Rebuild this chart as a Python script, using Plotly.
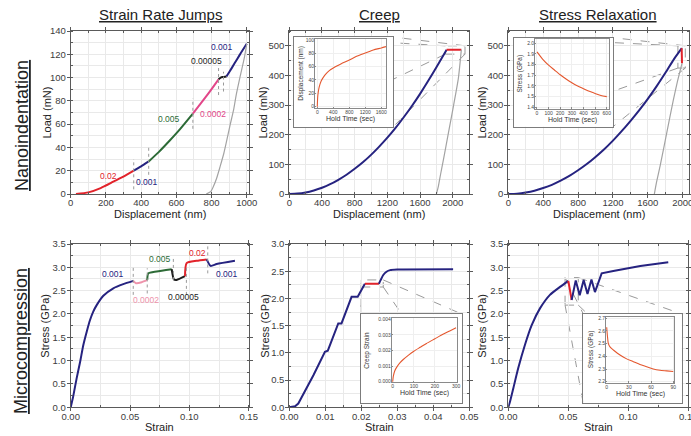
import plotly.graph_objects as go

W, H = 691, 436
FONT = "Liberation Sans, Arial, Helvetica, sans-serif"

NAVY = "#262380"
RED = "#e2232b"
GREEN = "#2d6b37"
MAGENTA = "#e24689"
PINK = "#ee93ab"
BLACK = "#1c1c1c"
UNLOAD = "#a3a3a3"
HOLD = "#e4572e"
FRAME = "#5a5a5a"
GRID = "#e9e9e9"
TICKTXT = "#3c3c3c"
DASH = "#9a9a9a"

# ---------------- Nanoindentation: strain rate jumps (nm, mN) ----------------
srj_red_h = [30, 100, 170, 245, 302, 358]
srj_red_p = [0, 1.4, 5.1, 10.8, 15.1, 20.0]
srj_blue1_h = [358, 400, 443]
srj_blue1_p = [20.0, 23.8, 28.0]
srj_green_h = [443, 500, 560, 620, 694]
srj_green_p = [28.0, 36.0, 45.5, 55.5, 69.0]
srj_pink_h = [694, 740, 790, 840]
srj_pink_p = [69.0, 78.0, 88.0, 98.5]
srj_black_h = [840, 852, 868, 885]
srj_black_p = [98.5, 100.0, 100.5, 101.0]
srj_blue2_h = [885, 900, 930, 960, 1000]
srj_blue2_p = [101.0, 104.5, 112.0, 119.5, 129.0]
srj_unload_h = [1000, 985, 962, 940, 925, 905, 887, 870, 849, 830, 811, 795, 770]
srj_unload_p = [129, 116, 100.6, 85, 72, 59, 46.5, 35, 23.7, 14, 6.6, 2, 0]
srj_mark_h = [358, 443, 694, 840, 868]
srj_mark_lo = [4, 16.5, 56, 85, 88]
srj_mark_hi = [30, 41, 82, 110, 105]
srj_labels = ["0.02", "0.001", "0.005", "0.0002", "0.00005", "0.001"]
srj_label_h = [215, 432, 557, 811, 774, 862]
srj_label_p = [15.7, 10.0, 64.2, 68.7, 114, 126.3]
srj_label_c = [RED, NAVY, GREEN, MAGENTA, BLACK, NAVY]

# ---------------- Nanoindentation: creep ----------------
cr_load_h = [0, 100, 200, 300, 400, 500, 600, 700, 800, 900, 1000, 1100, 1200,
             1300, 1400, 1500, 1600, 1700, 1800, 1925]
cr_load_p = [0, 1.3, 5.3, 12, 21, 33, 48, 65, 85, 107, 132, 160, 190,
             223, 259, 297, 338, 382, 428, 487]
cr_hold_h = [1925, 2105]
cr_hold_p = [487, 487]
cr_unload_h = [2105, 2069, 2008, 1947, 1886, 1850, 1824, 1800]
cr_unload_p = [487, 391, 296, 206, 116, 65, 26, 0]
cr_box_h = [1910, 2150]
cr_box_p = [472, 500]
cr_in_t = [0, 10, 25, 50, 100, 150, 200, 300, 400, 500, 600, 800, 1000, 1200, 1400, 1600, 1717]
cr_in_d = [0, 14, 22, 30, 39, 44, 48, 54, 58, 61.5, 64.5, 70, 76, 80.5, 85, 88, 90]

# ---------------- Nanoindentation: stress relaxation ----------------
sx_load_h = [0, 100, 200, 300, 400, 500, 600, 700, 800, 900, 1000, 1100, 1200,
             1300, 1400, 1500, 1600, 1700, 1800, 1900, 1990]
sx_load_p = [0, 1.2, 5, 11, 20, 31, 45, 61, 80, 101, 125, 151, 180,
             212, 246, 282, 321, 363, 408, 455, 492]
sx_drop_h = [1988, 1992]
sx_drop_p = [492, 441]
sx_unload_h = [1992, 1940, 1893, 1817, 1740, 1700, 1675]
sx_unload_p = [441, 380, 318, 206, 93, 40, 0]
sx_box_h = [1945, 2030]
sx_box_p = [425, 500]
sx_in_t = [0, 50, 100, 150, 200, 250, 300, 350, 400, 450, 500, 550, 600]
sx_in_s = [1.92, 1.85, 1.795, 1.75, 1.705, 1.665, 1.63, 1.60, 1.575, 1.55, 1.53, 1.51, 1.50]

# ---------------- Microcompression: strain rate jumps ----------------
mc_b1_e = [0, 0.002, 0.005, 0.008, 0.0106, 0.0135, 0.0163, 0.019, 0.0219, 0.0275,
           0.0359, 0.0443, 0.0527]
mc_b1_s = [0, 0.22, 0.62, 0.98, 1.33, 1.62, 1.87, 2.05, 2.19, 2.39, 2.55, 2.64, 2.71]
mc_pink_e = [0.0527, 0.055, 0.0598, 0.0645]
mc_pink_s = [2.71, 2.66, 2.68, 2.73]
mc_green_e = [0.0645, 0.0654, 0.0724, 0.0851]
mc_green_s = [2.73, 2.87, 2.91, 2.96]
mc_black_e = [0.0851, 0.087, 0.0893, 0.0963]
mc_black_s = [2.96, 2.74, 2.73, 2.81]
mc_red_e = [0.0963, 0.0977, 0.1061, 0.1146]
mc_red_s = [2.81, 3.09, 3.14, 3.17]
mc_b2_e = [0.1146, 0.1179, 0.1230, 0.1384]
mc_b2_s = [3.17, 3.03, 3.07, 3.14]
mc_mark_e = [0.0527, 0.0645, 0.0865, 0.0975, 0.1155]
mc_mark_lo = [2.41, 2.44, 2.73, 2.41, 2.87]
mc_mark_hi = [3.05, 2.98, 3.19, 3.01, 3.48]
mc_labels = ["0.001", "0.0002", "0.005", "0.00005", "0.02", "0.001"]
mc_label_e = [0.0359, 0.0632, 0.0752, 0.0949, 0.1067, 0.1314]
mc_label_s = [2.85, 2.30, 3.17, 2.37, 3.31, 2.86]
mc_label_c = [NAVY, PINK, GREEN, BLACK, RED, NAVY]

# ---------------- Microcompression: creep ----------------
mcc_load_e = [0, 0.0016, 0.0025, 0.0034, 0.0067, 0.0099, 0.0107, 0.0136, 0.0145,
              0.0173, 0.0190, 0.0210]
mcc_load_s = [0, 0.02, 0.07, 0.18, 0.59, 1.02, 1.04, 1.54, 1.54, 2.03, 2.03, 2.27]
mcc_hold_e = [0.0210, 0.0249]
mcc_hold_s = [2.27, 2.27]
mcc_after_e = [0.0249, 0.0254, 0.0261, 0.0270, 0.0280, 0.0300, 0.0455]
mcc_after_s = [2.27, 2.34, 2.43, 2.49, 2.52, 2.53, 2.535]
mcc_box_e = [0.0200, 0.0261]
mcc_box_s = [2.21, 2.34]
mcc_in_t = [0, 3, 10, 20, 35, 50, 75, 100, 130, 160, 200, 240, 270, 300]
mcc_in_e = [0, 0.00035, 0.0007, 0.00095, 0.00122, 0.00142, 0.0017, 0.00195, 0.0022,
            0.00245, 0.00275, 0.00305, 0.00325, 0.00345]

# ---------------- Microcompression: stress relaxation ----------------
msr_load_e = [0, 0.0014, 0.0042, 0.0083, 0.0139, 0.0195, 0.0264, 0.0347, 0.0431, 0.0500]
msr_load_s = [0, 0.12, 0.41, 0.84, 1.34, 1.76, 2.12, 2.41, 2.58, 2.71]
msr_relax_e = [0.0500, 0.0528]
msr_relax_s = [2.71, 2.30]
msr_cycle_e = [0.0528, 0.0562, 0.0595, 0.0628, 0.0660, 0.0693, 0.0722, 0.0755, 0.0778,
               0.0875, 0.1000, 0.1100, 0.1333]
msr_cycle_s = [2.30, 2.72, 2.40, 2.73, 2.43, 2.74, 2.47, 2.72, 2.87, 2.92, 2.98, 3.03, 3.11]
msr_box_e = [0.0473, 0.0583]
msr_box_s = [2.19, 2.78]
msr_in_t = [0, 1, 2.25, 5, 9, 18, 27, 36, 45, 54, 63, 72, 81, 90]
msr_in_s = [2.63, 2.56, 2.50, 2.47, 2.45, 2.41, 2.38, 2.358, 2.335, 2.318, 2.30, 2.29, 2.285, 2.28]


def xp(p):
    return p / W


def yp(p):
    return 1 - p / H


# plot areas in pixels (left, right, top, bottom) with their axis ranges
PANEL = {
    1: dict(box=(70.7, 248.5, 31.0, 194.0), xr=[0, 1010], yr=[0, 140],
            xd=200, yd=20, xf=None, yf=None),
    2: dict(box=(289.3, 469.1, 31.0, 194.0), xr=[0, 2200], yr=[0, 550],
            xd=400, yd=100, xf=None, yf=None),
    3: dict(box=(508.3, 688.8, 31.0, 194.0), xr=[0, 2070], yr=[0, 550],
            xd=400, yd=100, xf=None, yf=None),
    4: dict(box=(70.7, 248.7, 244.0, 407.3), xr=[0, 0.15], yr=[0, 3.5],
            xd=0.05, yd=0.5, xf=".2f", yf=".1f"),
    5: dict(box=(289.3, 469.3, 244.0, 407.3), xr=[0, 0.05], yr=[0, 3.0],
            xd=0.01, yd=0.5, xf=".2f", yf=".1f"),
    6: dict(box=(508.3, 688.3, 244.0, 407.3), xr=[0, 0.15], yr=[0, 3.5],
            xd=0.05, yd=0.5, xf=".2f", yf=".1f"),
}

# inset frames (outer white box) and inner plot areas, keyed by host panel
INSET = {
    2: dict(frame=(294, 393, 37, 127), box=(315, 386, 39.3, 108),
            xr=[-57, 1717], yr=[-2, 101], xd=400, yd=20, yf=None,
            ytitle="Displacement (nm)"),
    3: dict(frame=(514, 613, 37.7, 126.7), box=(535, 609.3, 39.3, 108.7),
            xr=[-17, 622], yr=[1.387, 2.0375], xd=100, yd=0.1, yf=".1f",
            ytitle="Stress (GPa)"),
    5: dict(frame=(361, 462.3, 314.3, 403.3), box=(391.7, 456.7, 318.3, 382.3),
            xr=[-4.7, 303], yr=[-0.00004, 0.00406], xd=100, yd=0.001, yf=".3f",
            ytitle="Creep Strain"),
    6: dict(frame=(583.3, 681.7, 314, 403.3), box=(606, 674.3, 316.7, 382.7),
            xr=[-0.95, 91.4], yr=[2.192, 2.7126], xd=30, yd=0.1, yf=".1f",
            ytitle="Stress (GPa)"),
}
FRAME_ID = {2: 7, 3: 8, 5: 9, 6: 10}
INNER_ID = {2: 11, 3: 12, 5: 13, 6: 14}


def axkey(n, a):
    return f"{a}axis" if n == 1 else f"{a}axis{n}"


def ref(n, a):
    return a if n == 1 else f"{a}{n}"


def to_px(n, x, y):
    l, r, t, b = PANEL[n]["box"]
    xr, yr = PANEL[n]["xr"], PANEL[n]["yr"]
    return (l + (x - xr[0]) / (xr[1] - xr[0]) * (r - l),
            b - (y - yr[0]) / (yr[1] - yr[0]) * (b - t))


fig = go.Figure()


def line(n, x, y, color, width=2.0, spline=True):
    fig.add_trace(go.Scatter(
        x=x, y=y, mode="lines", xaxis=ref(n, "x"), yaxis=ref(n, "y"),
        line=dict(color=color, width=width, shape="spline" if spline else "linear",
                  smoothing=0.6),
        hoverinfo="skip", showlegend=False))


# main panels
line(1, srj_red_h, srj_red_p, RED)
line(1, srj_blue1_h, srj_blue1_p, NAVY)
line(1, srj_green_h, srj_green_p, GREEN)
line(1, srj_pink_h, srj_pink_p, MAGENTA)
line(1, srj_black_h, srj_black_p, BLACK)
line(1, srj_blue2_h, srj_blue2_p, NAVY)
line(1, srj_unload_h, srj_unload_p, UNLOAD, 1.2)

line(2, cr_load_h, cr_load_p, NAVY)
line(2, cr_hold_h, cr_hold_p, RED)
line(2, cr_unload_h, cr_unload_p, UNLOAD, 1.2)

line(3, sx_load_h, sx_load_p, NAVY)
line(3, sx_drop_h, sx_drop_p, RED)
line(3, sx_unload_h, sx_unload_p, UNLOAD, 1.2)

line(4, mc_b1_e, mc_b1_s, NAVY)
line(4, mc_pink_e, mc_pink_s, PINK)
line(4, mc_green_e, mc_green_s, GREEN)
line(4, mc_black_e, mc_black_s, BLACK)
line(4, mc_red_e, mc_red_s, RED)
line(4, mc_b2_e, mc_b2_s, NAVY)

line(5, mcc_load_e, mcc_load_s, NAVY, spline=False)
line(5, mcc_hold_e, mcc_hold_s, RED)
line(5, mcc_after_e, mcc_after_s, NAVY)

line(6, msr_load_e, msr_load_s, NAVY)
line(6, msr_relax_e, msr_relax_s, RED)
line(6, msr_cycle_e, msr_cycle_s, NAVY, spline=False)

# white frames behind the insets
for k, fid in FRAME_ID.items():
    fig.add_trace(go.Scatter(x=[0.5], y=[0.5], mode="markers", marker=dict(opacity=0),
                             xaxis=ref(fid, "x"), yaxis=ref(fid, "y"),
                             hoverinfo="skip", showlegend=False))

# inset curves
line(INNER_ID[2], cr_in_t, cr_in_d, HOLD, 1.1)
line(INNER_ID[3], sx_in_t, sx_in_s, HOLD, 1.1)
line(INNER_ID[5], mcc_in_t, mcc_in_e, HOLD, 1.1)
line(INNER_ID[6], msr_in_t, msr_in_s, HOLD, 1.1)

layout = dict(
    width=W, height=H, autosize=False,
    margin=dict(l=0, r=0, t=0, b=0, pad=0),
    paper_bgcolor="white", plot_bgcolor="white",
    template="none", showlegend=False,
    font=dict(family=FONT, color=TICKTXT),
)

tickfont = dict(family=FONT, size=9.5, color=TICKTXT)
for n, p in PANEL.items():
    l, r, t, b = p["box"]
    common = dict(showline=True, linecolor=FRAME, linewidth=1, mirror="ticks",
                  ticks="outside", ticklen=3, tickcolor=FRAME, tickwidth=1,
                  showgrid=True, gridcolor=GRID, gridwidth=1, zeroline=False,
                  tickfont=tickfont, fixedrange=True, tick0=0,
                  ticklabeloverflow="allow")
    layout[axkey(n, "x")] = dict(
        common, domain=[xp(l), xp(r)], range=p["xr"], anchor=ref(n, "y"),
        dtick=p["xd"], tickformat=p["xf"], ticklabelstandoff=-3,
        minor=dict(dtick=p["xd"] / 2, showgrid=True, gridcolor=GRID,
                   ticks="inside", ticklen=2, tickcolor=FRAME))
    layout[axkey(n, "y")] = dict(
        common, domain=[yp(b), yp(t)], range=p["yr"], anchor=ref(n, "x"),
        dtick=p["yd"], tickformat=p["yf"], ticklabelstandoff=-1,
        minor=dict(dtick=p["yd"] / 2, showgrid=True, gridcolor=GRID,
                   ticks="inside", ticklen=2, tickcolor=FRAME))

for k, ins in INSET.items():
    fid, iid = FRAME_ID[k], INNER_ID[k]
    l, r, t, b = ins["frame"]
    plain = dict(showline=True, linecolor="#7c7c7c", linewidth=1, mirror=True,
                 showgrid=False, zeroline=False, showticklabels=False, ticks="",
                 range=[0, 1], fixedrange=True)
    layout[axkey(fid, "x")] = dict(plain, domain=[xp(l), xp(r)], anchor=ref(fid, "y"))
    layout[axkey(fid, "y")] = dict(plain, domain=[yp(b), yp(t)], anchor=ref(fid, "x"))

    l, r, t, b = ins["box"]
    small = dict(showline=True, linecolor="#8a8a8a", linewidth=0.8, mirror=True,
                 ticks="inside", ticklen=1.5, tickcolor="#8a8a8a",
                 showgrid=True, gridcolor="#efefef", zeroline=False, fixedrange=True,
                 tickfont=dict(family=FONT, size=5, color="#444"), tick0=0,
                 ticklabeloverflow="allow")
    layout[axkey(iid, "x")] = dict(small, domain=[xp(l), xp(r)], range=ins["xr"],
                                   anchor=ref(iid, "y"), dtick=ins["xd"],
                                   ticklabelstandoff=-1)
    layout[axkey(iid, "y")] = dict(small, domain=[yp(b), yp(t)], range=ins["yr"],
                                   anchor=ref(iid, "x"), dtick=ins["yd"],
                                   tickformat=ins["yf"], ticklabelstandoff=-1)

shapes = []
# dotted markers at the rate changes
for h, lo, hi in zip(srj_mark_h, srj_mark_lo, srj_mark_hi):
    shapes.append(dict(type="line", xref="x", yref="y", x0=h, x1=h, y0=lo, y1=hi,
                       line=dict(color="#9a9a9a", width=1, dash="dot")))
for e, lo, hi in zip(mc_mark_e, mc_mark_lo, mc_mark_hi):
    shapes.append(dict(type="line", xref="x4", yref="y4", x0=e, x1=e, y0=lo, y1=hi,
                       line=dict(color="#9a9a9a", width=1, dash="dot")))

# dashed zoom boxes and connectors to the insets
zoom_boxes = {2: (cr_box_h, cr_box_p), 3: (sx_box_h, sx_box_p),
              5: (mcc_box_e, mcc_box_s), 6: (msr_box_e, msr_box_s)}
for k, (bx, by) in zoom_boxes.items():
    shapes.append(dict(type="rect", xref=ref(k, "x"), yref=ref(k, "y"),
                       x0=bx[0], x1=bx[1], y0=by[0], y1=by[1],
                       line=dict(color=DASH, width=1, dash="dash"), layer="below"))
    fl, fr, ft, fb = INSET[k]["frame"]
    pairs = [((bx[0], by[1]), (fl, ft)), ((bx[1], by[1]), (fr, ft)),
             ((bx[0], by[0]), (fl, fb)), ((bx[1], by[0]), (fr, fb))]
    for (dx, dy), (cx, cy) in pairs:
        px0, py0 = to_px(k, dx, dy)
        shapes.append(dict(type="line", xref="paper", yref="paper",
                           x0=xp(px0), y0=yp(py0), x1=xp(cx), y1=yp(cy),
                           line=dict(color=DASH, width=1, dash="dash"), layer="below"))
layout["shapes"] = shapes

ann = []


def text(x, y, s, size, color="#222", angle=0, xref="paper", yref="paper"):
    ann.append(dict(x=x, y=y, xref=xref, yref=yref, text=s, showarrow=False,
                    textangle=angle, xanchor="center", yanchor="middle",
                    font=dict(family=FONT, size=size, color=color)))


# column and row headings
text(xp(160.5), yp(14), "<u>Strain Rate Jumps</u>", 15)
text(xp(379), yp(14), "<u>Creep</u>", 15)
text(xp(598), yp(14), "<u>Stress Relaxation</u>", 15)
text(xp(22), yp(126), "<u>Nanoindentation</u>", 18, angle=-90)
text(xp(21), yp(341), "<u>Microcompression</u>", 18, angle=-90)

# axis titles
for n, xt, yt, yx in [(1, "Displacement (nm)", "Load (mN)", 47),
                      (2, "Displacement (nm)", "Load (mN)", 263),
                      (3, "Displacement (nm)", "Load (mN)", 482),
                      (4, "Strain", "Stress (GPa)", 45),
                      (5, "Strain", "Stress (GPa)", 265),
                      (6, "Strain", "Stress (GPa)", 482)]:
    l, r, t, b = PANEL[n]["box"]
    text(xp((l + r) / 2), yp(b + 19.5), xt, 11, "#222")
    text(xp(yx), yp((t + b) / 2), yt, 11, "#222", angle=-90)

# inset axis titles
inset_ytitle_x = {2: 301.0, 3: 519.5, 5: 367.5, 6: 590.5}
for k, ins in INSET.items():
    l, r, t, b = ins["box"]
    text(xp((l + r) / 2), yp(b + 11), "Hold Time (sec)", 7, "#333")
    text(xp(inset_ytitle_x[k]), yp((t + b) / 2), ins["ytitle"], 6.5, "#333", angle=-90)

# strain-rate labels on the curves
for s, x, y, c in zip(srj_labels, srj_label_h, srj_label_p, srj_label_c):
    text(x, y, s, 8.5, c, xref="x", yref="y")
for s, x, y, c in zip(mc_labels, mc_label_e, mc_label_s, mc_label_c):
    text(x, y, s, 8.5, c, xref="x4", yref="y4")

layout["annotations"] = ann
fig.update_layout(**layout)
fig.write_html("out.html")
